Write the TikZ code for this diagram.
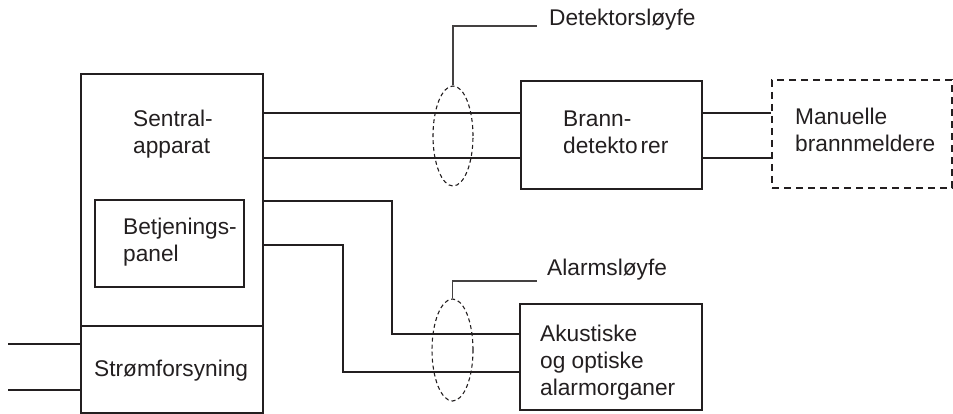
\documentclass[tikz,border=0pt]{standalone}
\usepackage{fontspec}
\setmainfont{Liberation Sans}
\usetikzlibrary{shapes.geometric}
\definecolor{ink}{HTML}{231F20}

\begin{document}
\begin{tikzpicture}[x=1pt, y=-1pt,
    unit/.style={draw=ink, line width=1.8, rectangle, inner sep=0},
    extunit/.style={draw=ink, line width=1.4, rectangle, inner sep=0, dash pattern=on 7pt off 5pt},
    txt/.style={text=ink, inner sep=0, align=left, font=\fontsize{22.7}{27}\selectfont},
    wire/.style={draw=ink, line width=2.4},
    loopmark/.style={draw=ink, line width=1.1, ellipse, inner sep=0, dash pattern=on 4pt off 3pt},
    leader/.style={draw=ink!85, line width=1.3}]
    \useasboundingbox (0,0) rectangle (953,414);
    % boxes
    \node[unit, minimum width=182, minimum height=252] (sentral) at (172,200) {};
    \node[unit, minimum width=182, minimum height=87] (strom) at (172,369.5) {};
    \node[unit, minimum width=149, minimum height=87] (panel) at (169.5,243.5) {};
    \node[unit, minimum width=181, minimum height=108] (brann) at (611.5,135) {};
    \node[extunit, minimum width=180, minimum height=108] (manuell) at (862,134) {};
    \node[unit, minimum width=182, minimum height=106] (alarm) at (611,357) {};
    % texts
    \node[txt, anchor=north west] (sentraltxt) at (133,109.5) {Sentral-\\apparat};
    \node[txt, anchor=north west] (paneltxt) at (123,217.7) {Betjenings-\\panel};
    \node[txt, anchor=north west] (stromtxt) at (94,359.5) {Strømforsyning};
    \node[txt, anchor=north west] (branntxt) at (563,111) {Brann-\\detekto\kern3pt rer};
    \node[txt, anchor=north west] (manuelltxt) at (795,108) {Manuelle\\brannmeldere};
    \node[txt, anchor=north west] (alarmtxt) at (540,325) {Akustiske\\og optiske\\alarmorganer};
    % wires
    \coordinate (mains1) at (8,344);
    \coordinate (mains2) at (8,390);
    \draw[wire] (mains1) -- (strom.west |- mains1);
    \draw[wire] (mains2) -- (strom.west |- mains2);
    \draw[wire] (sentral.east |- 0,113) -- (brann.west |- 0,113);
    \draw[wire] (sentral.east |- 0,158) -- (brann.west |- 0,158);
    \draw[wire] (brann.east |- 0,113) -- (manuell.west |- 0,113);
    \draw[wire] (brann.east |- 0,158) -- (manuell.west |- 0,158);
    \draw[wire] (sentral.east |- 0,201) -| (392,334) -- (alarm.west |- 0,334);
    \draw[wire] (sentral.east |- 0,245) -| (343,372) -- (alarm.west |- 0,372);
    % loops
    \node[loopmark, minimum width=40, minimum height=100] (detloop) at (453,136) {};
    \node[loopmark, minimum width=41, minimum height=102] (alarmloop) at (452.5,350) {};
    \node[txt, anchor=base west] (detlabel) at (549,26) {Detektorsløyfe};
    \node[txt, anchor=base west] (alarmlabel) at (547,275) {Alarmsløyfe};
    \draw[leader] (detloop.north) |- ([xshift=-12]detlabel.base west);
    \draw[leader] (alarmloop.north) |- ([xshift=-10,yshift=-6]alarmlabel.base west);
\end{tikzpicture}
\end{document}
